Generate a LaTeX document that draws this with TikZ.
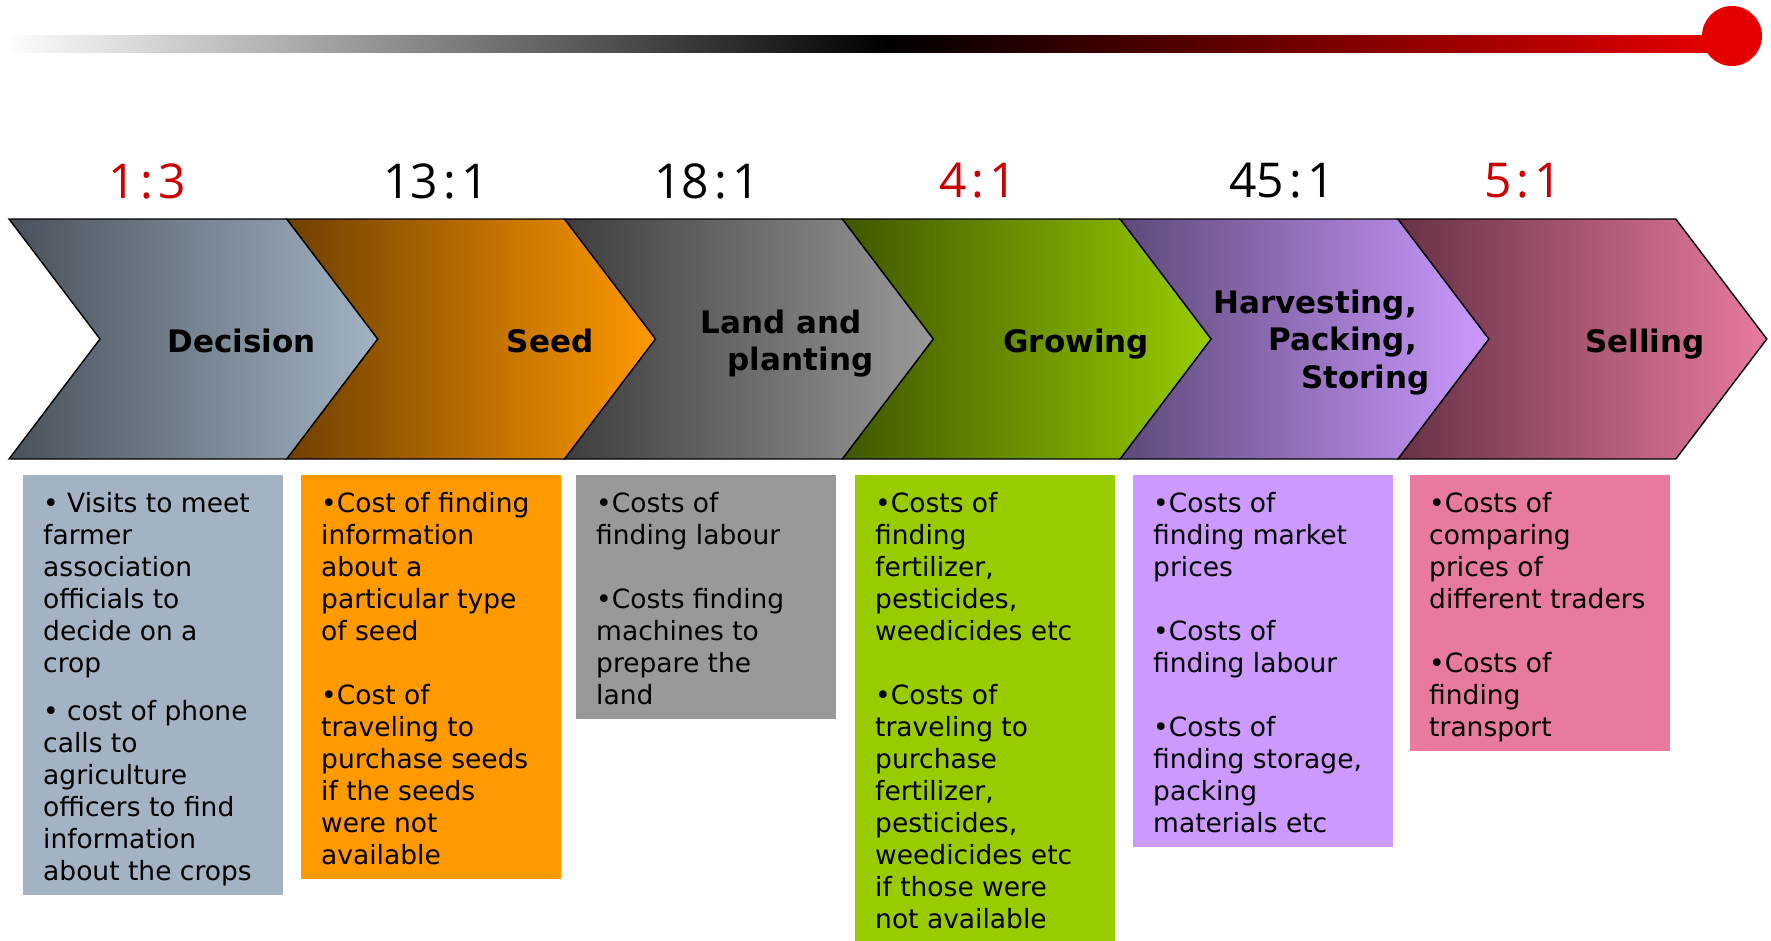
\documentclass[tikz,border=0pt]{standalone}
\usepackage{fontspec}
\setmainfont{DejaVu Sans}
\newfontfamily\ratiofont{Open Sans}
\definecolor{barred}{RGB}{229,0,0}
\definecolor{ratred}{RGB}{204,0,0}
\definecolor{decL}{RGB}{72,82,92}
\definecolor{decR}{RGB}{163,179,195}
\definecolor{seedL}{RGB}{112,64,0}
\definecolor{seedR}{RGB}{255,153,0}
\definecolor{landL}{RGB}{62,62,62}
\definecolor{landR}{RGB}{153,153,153}
\definecolor{growL}{RGB}{62,88,0}
\definecolor{growR}{RGB}{153,204,0}
\definecolor{harvL}{RGB}{94,74,122}
\definecolor{harvR}{RGB}{204,153,255}
\definecolor{sellL}{RGB}{104,50,70}
\definecolor{sellR}{RGB}{232,122,160}
\definecolor{boxA}{RGB}{163,179,195}
\definecolor{boxB}{RGB}{255,153,0}
\definecolor{boxC}{RGB}{153,153,153}
\definecolor{boxD}{RGB}{153,204,0}
\definecolor{boxE}{RGB}{204,153,255}
\definecolor{boxF}{RGB}{232,122,160}
\newcommand\mystrutA{\rule{0pt}{22pt}}
\newcommand\mystrutB{\rule{0pt}{24pt}}
\newcommand\trailgap[1]{\makebox[#1]{}}
\begin{document}
\begin{tikzpicture}[x=1pt,y=-1pt,
  chev/.style={draw=black,line width=1.4pt,line join=miter},
  lab/.style={anchor=north east,inner sep=0pt,align=right,font=\fontsize{31}{37.5}\selectfont\bfseries},
  ratio/.style={inner sep=0pt,font=\fontsize{48}{50}\selectfont\ratiofont},
  cbox/.style={anchor=north west,inner sep=0pt,outer sep=0pt,minimum width=260pt},
  ctext/.style={anchor=north west,inner sep=0pt,align=left,font=\fontsize{26.5}{32}\selectfont}]
\useasboundingbox (0,0) rectangle (1771,940);
% top bar
\shade[left color=white,right color=black] (5,35) rectangle (887,52);
\shade[left color=black,right color=barred] (886.5,35) rectangle (1715,52);
\fill[barred] (1732,36) circle[radius=30];
% chevrons
\path[chev,left color=decL,right color=decR] (9,219) -- (286.8,219) -- (377.8,339) -- (286.8,459) -- (9,459) -- (100,339) -- cycle;
\path[chev,left color=seedL,right color=seedR] (286.8,219) -- (564.6,219) -- (655.6,339) -- (564.6,459) -- (286.8,459) -- (377.8,339) -- cycle;
\path[chev,left color=landL,right color=landR] (564.6,219) -- (842.4,219) -- (933.4,339) -- (842.4,459) -- (564.6,459) -- (655.6,339) -- cycle;
\path[chev,left color=growL,right color=growR] (842.4,219) -- (1120.2,219) -- (1211.2,339) -- (1120.2,459) -- (842.4,459) -- (933.4,339) -- cycle;
\path[chev,left color=harvL,right color=harvR] (1120.2,219) -- (1398,219) -- (1489,339) -- (1398,459) -- (1120.2,459) -- (1211.2,339) -- cycle;
\path[chev,left color=sellL,right color=sellR] (1398,219) -- (1675.8,219) -- (1766.8,339) -- (1675.8,459) -- (1398,459) -- (1489,339) -- cycle;
% chevron labels
\node[lab] (l1) at (315.8,328) {\mystrutB Decision};
\node[lab] (l2) at (593.6,328) {\mystrutB Seed};
\node[lab] (l3) at (873.5,309) {\mystrutB Land and\trailgap{12pt}\\planting};
\node[lab] (l4) at (1149.2,328) {\mystrutB Growing};
\node[lab] (l5) at (1430,289) {\mystrutB Harvesting,\trailgap{13pt}\\Packing,\trailgap{13pt}\\Storing};
\node[lab] (l6) at (1704.8,328) {\mystrutB Selling};
% ratios
\node[ratio,text=ratred] (r1) at (147,181) {1\kern5pt:\kern5pt3};
\node[ratio,text=black] (r2) at (436,181) {13\kern5pt:\kern5pt1};
\node[ratio,text=black] (r3) at (707,181) {18\kern5pt:\kern5pt1};
\node[ratio,text=ratred] (r4) at (978,181) {4\kern5pt:\kern5pt1};
\node[ratio,text=black] (r5) at (1282,181) {45\kern5pt:\kern5pt1};
\node[ratio,text=ratred] (r6) at (1523,181) {5\kern5pt:\kern5pt1};
% boxes
\node[cbox,fill=boxA,minimum height=420pt] (b1) at (23,475) {};
\node[cbox,fill=boxB,minimum height=404pt] (b2) at (300.5,475) {};
\node[cbox,fill=boxC,minimum height=244pt] (b3) at (576,475) {};
\node[cbox,fill=boxD,minimum height=466pt] (b4) at (855,475) {};
\node[cbox,fill=boxE,minimum height=372pt] (b5) at (1133,475) {};
\node[cbox,fill=boxF,minimum height=276pt] (b6) at (1409.5,475) {};
% texts
\node[ctext] (t1) at (43,490) {\mystrutA• Visits to meet\\farmer\\association\\officials to\\decide on a\\crop\\[16pt]• cost of phone\\calls to\\agriculture\\officers to find\\information\\about the crops};
\node[ctext] (t2) at (321,490) {\mystrutA•Cost of finding\\information\\about a\\particular type\\of seed\\[32pt]•Cost of\\traveling to\\purchase seeds\\if the seeds\\were not\\available};
\node[ctext] (t3) at (596,490) {\mystrutA•Costs of\\finding labour\\[32pt]•Costs finding\\machines to\\prepare the\\land};
\node[ctext] (t4) at (875,490) {\mystrutA•Costs of\\finding\\fertilizer,\\pesticides,\\weedicides etc\\[32pt]•Costs of\\traveling to\\purchase\\fertilizer,\\pesticides,\\weedicides etc\\if those were\\not available};
\node[ctext] (t5) at (1153,490) {\mystrutA•Costs of\\finding market\\prices\\[32pt]•Costs of\\finding labour\\[32pt]•Costs of\\finding storage,\\packing\\materials etc};
\node[ctext] (t6) at (1429,490) {\mystrutA•Costs of\\comparing\\prices of\\different traders\\[32pt]•Costs of\\finding\\transport};
\end{tikzpicture}
\end{document}
